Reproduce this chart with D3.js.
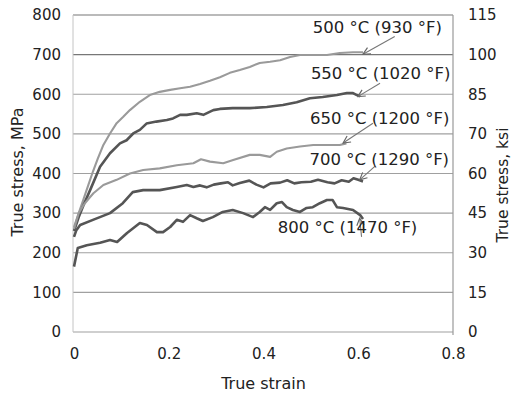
<!DOCTYPE html>
<html>
<head>
<meta charset="utf-8">
<script src="https://cdn.jsdelivr.net/npm/d3@7"></script>
<style>
  body { margin: 0; background: #fff; }
  text { font-family: "DejaVu Sans", sans-serif; fill: #222; }
</style>
</head>
<body>
<div id="chart"></div>
<script>
const margin = { top: 15, right: 60, bottom: 63, left: 73 },
  W = 513,
  H = 395;

const mpaTicks = [0, 100, 200, 300, 400, 500, 600, 700, 800];
const ksiLabels = ["0", "15", "30", "45", "60", "70", "85", "100", "115"];
const strainTicks = [0, 0.2, 0.4, 0.6, 0.8];

const names = ["500", "550", "650", "700", "800"];
const labels = [
  "500 °C (930 °F)",
  "550 °C (1020 °F)",
  "650 °C (1200 °F)",
  "700 °C (1290 °F)",
  "800 °C (1470 °F)",
];
const tones = ["light", "dark", "light", "dark", "dark"];

const strain500 = [0, 0.01, 0.02, 0.03, 0.04, 0.05, 0.062, 0.076, 0.09, 0.104, 0.118, 0.139, 0.16, 0.181, 0.203, 0.224, 0.245, 0.266, 0.287, 0.308, 0.329, 0.35, 0.371, 0.392, 0.414, 0.435, 0.456, 0.477, 0.498, 0.534, 0.561, 0.589, 0.61];
const stress500 = [265, 300, 335, 370, 405, 437, 472, 501, 527, 543, 560, 581, 598, 606, 611, 615, 619, 626, 634, 643, 654, 661, 669, 679, 682, 686, 694, 699, 699, 699, 704, 706, 706];

const strain550 = [0, 0.01, 0.02, 0.034, 0.055, 0.076, 0.097, 0.111, 0.125, 0.139, 0.153, 0.174, 0.196, 0.209, 0.224, 0.238, 0.259, 0.273, 0.294, 0.308, 0.335, 0.371, 0.407, 0.441, 0.47, 0.498, 0.525, 0.555, 0.576, 0.589, 0.597, 0.604];
const stress550 = [255, 290, 320, 358, 417, 451, 476, 484, 501, 510, 526, 531, 535, 539, 548, 548, 552, 548, 560, 563, 565, 565, 568, 573, 580, 590, 593, 598, 603, 603, 598, 595];

const strain650 = [0, 0.01, 0.02, 0.03, 0.041, 0.062, 0.09, 0.118, 0.146, 0.181, 0.217, 0.252, 0.268, 0.287, 0.315, 0.336, 0.371, 0.392, 0.414, 0.428, 0.449, 0.477, 0.505, 0.533, 0.561, 0.575];
const stress650 = [260, 300, 320, 335, 350, 371, 384, 400, 409, 413, 421, 426, 436, 430, 426, 434, 447, 447, 442, 455, 463, 468, 472, 472, 472, 476];

const strain700 = [0, 0.005, 0.013, 0.04, 0.076, 0.103, 0.124, 0.146, 0.181, 0.217, 0.238, 0.252, 0.266, 0.28, 0.295, 0.31, 0.325, 0.335, 0.35, 0.37, 0.385, 0.4, 0.415, 0.435, 0.45, 0.465, 0.48, 0.5, 0.515, 0.535, 0.55, 0.565, 0.58, 0.59, 0.6, 0.61];
const stress700 = [240, 257, 270, 283, 300, 325, 353, 358, 358, 366, 371, 366, 370, 365, 372, 375, 378, 370, 376, 382, 372, 365, 375, 377, 383, 375, 378, 379, 384, 378, 375, 383, 379, 388, 384, 380];

const strain800 = [0, 0.008, 0.027, 0.055, 0.076, 0.091, 0.112, 0.139, 0.154, 0.175, 0.188, 0.203, 0.217, 0.23, 0.245, 0.259, 0.272, 0.293, 0.314, 0.335, 0.357, 0.378, 0.392, 0.403, 0.414, 0.428, 0.439, 0.449, 0.462, 0.477, 0.491, 0.504, 0.519, 0.534, 0.546, 0.555, 0.568, 0.589, 0.604, 0.61];
const stress800 = [165, 212, 219, 225, 232, 227, 250, 275, 270, 252, 252, 265, 283, 278, 295, 287, 280, 290, 303, 308, 300, 290, 303, 315, 308, 325, 328, 315, 308, 303, 313, 315, 325, 333, 333, 315, 313, 308, 295, 285];

// label anchor, arrow start and arrow tip, in data units
const labelAt = [[0.504, 754], [0.5, 638], [0.498, 525], [0.497, 421], [0.43, 250]];
const arrowFrom = [[0.677, 746], [0.646, 628], [0.631, 527], [0.635, 418], [0.607, 240]];
const arrowTo = [[0.61, 701], [0.599, 594], [0.568, 477], [0.603, 384], [0.603, 287]];

const strains = [strain500, strain550, strain650, strain700, strain800];
const stresses = [stress500, stress550, stress650, stress700, stress800];

const svg = d3
  .select("#chart")
  .append("svg")
  .attr("width", W)
  .attr("height", H);

const x = d3
  .scaleLinear()
  .domain([0, 0.8])
  .range([margin.left + 1, W - margin.right]);
const y = d3
  .scaleLinear()
  .domain([0, 800])
  .range([H - margin.bottom, margin.top]);

svg
  .append("defs")
  .append("marker")
  .attr("id", "arr")
  .attr("viewBox", "0 0 10 10")
  .attr("refX", 9)
  .attr("refY", 5)
  .attr("markerWidth", 9)
  .attr("markerHeight", 9)
  .attr("markerUnits", "userSpaceOnUse")
  .attr("orient", "auto")
  .append("path")
  .attr("d", "M1,1 L9,5 L1,9")
  .attr("fill", "none")
  .attr("stroke", "#666")
  .attr("stroke-width", 1.3);

svg
  .append("g")
  .attr("class", "grid")
  .selectAll("line")
  .data(mpaTicks)
  .join("line")
  .attr("x1", margin.left)
  .attr("x2", W - margin.right)
  .attr("y1", (d) => y(d))
  .attr("y2", (d) => y(d))
  .attr("stroke", (d) => (d >= 700 ? "#777" : "#a0a0a0"))
  .attr("stroke-width", 1.2);

svg
  .append("line")
  .attr("x1", margin.left)
  .attr("x2", margin.left)
  .attr("y1", y(800))
  .attr("y2", y(0))
  .attr("stroke", "#c4c4c4");
svg
  .append("line")
  .attr("x1", W - margin.right)
  .attr("x2", W - margin.right)
  .attr("y1", y(800))
  .attr("y2", y(0) + 3)
  .attr("stroke", "#999")
  .attr("stroke-width", 1.2);

let yAxis = (g) =>
  g
    .attr("transform", "translate(" + (margin.left - 12) + ",0)")
    .call(d3.axisLeft(y).tickValues(mpaTicks).tickSize(0).tickPadding(0))
    .call((g) => g.select(".domain").remove())
    .call((g) => g.selectAll("text").attr("font-size", 15).attr("fill", "#222"));
let yAxisRight = (g) =>
  g
    .attr("transform", "translate(" + (W - margin.right + 15) + ",0)")
    .call(
      d3
        .axisRight(y)
        .tickValues(mpaTicks)
        .tickFormat((d, i) => ksiLabels[i])
        .tickSize(0)
        .tickPadding(0)
    )
    .call((g) => g.select(".domain").remove())
    .call((g) => g.selectAll("text").attr("font-size", 15).attr("fill", "#222"));
let xAxis = (g) =>
  g
    .attr("transform", "translate(0," + (y(0) + 16) + ")")
    .call(
      d3
        .axisBottom(x)
        .tickValues(strainTicks)
        .tickFormat((d) => (d === 0 ? "0" : d3.format(".1f")(d)))
        .tickSize(0)
        .tickPadding(0)
    )
    .call((g) => g.select(".domain").remove())
    .call((g) => g.selectAll("text").attr("font-size", 15).attr("fill", "#222"));

svg.append("g").attr("class", "y-axis").call(yAxis);
svg.append("g").attr("class", "y-axis-right").call(yAxisRight);
svg.append("g").attr("class", "x-axis").call(xAxis);

svg
  .append("text")
  .attr("x", (x(0) + x(0.8)) / 2)
  .attr("y", 389)
  .attr("text-anchor", "middle")
  .attr("font-size", 16)
  .text("True strain");
svg
  .append("text")
  .attr("transform", "translate(23,172) rotate(-90)")
  .attr("text-anchor", "middle")
  .attr("font-size", 16)
  .text("True stress, MPa");
svg
  .append("text")
  .attr("transform", "translate(508,185) rotate(-90)")
  .attr("text-anchor", "middle")
  .attr("font-size", 15.5)
  .text("True stress, ksi");

const line = d3
  .line()
  .x((d) => x(d[0]))
  .y((d) => y(d[1]));

const curves = names.map((n, i) => ({
  name: n,
  tone: tones[i],
  points: strains[i].map((s, j) => [s, stresses[i][j]]),
}));

svg
  .append("g")
  .attr("class", "curves")
  .selectAll("path")
  .data(curves)
  .join("path")
  .attr("d", (d) => line(d.points))
  .attr("fill", "none")
  .attr("stroke", (d) => (d.tone === "dark" ? "#555" : "#9a9a9a"))
  .attr("stroke-width", (d) => (d.tone === "dark" ? 2.6 : 2.1))
  .attr("stroke-linejoin", "round");

svg
  .append("g")
  .attr("class", "arrows")
  .selectAll("line")
  .data(names)
  .join("line")
  .attr("x1", (d, i) => x(arrowFrom[i][0]))
  .attr("y1", (d, i) => y(arrowFrom[i][1]))
  .attr("x2", (d, i) => x(arrowTo[i][0]))
  .attr("y2", (d, i) => y(arrowTo[i][1]))
  .attr("stroke", "#777")
  .attr("stroke-width", 1.1)
  .attr("marker-end", "url(#arr)");

svg
  .append("g")
  .attr("class", "labels")
  .selectAll("text")
  .data(labels)
  .join("text")
  .attr("x", (d, i) => x(labelAt[i][0]))
  .attr("y", (d, i) => y(labelAt[i][1]))
  .attr("font-size", 16.5)
  .text((d) => d);
</script>
</body>
</html>
